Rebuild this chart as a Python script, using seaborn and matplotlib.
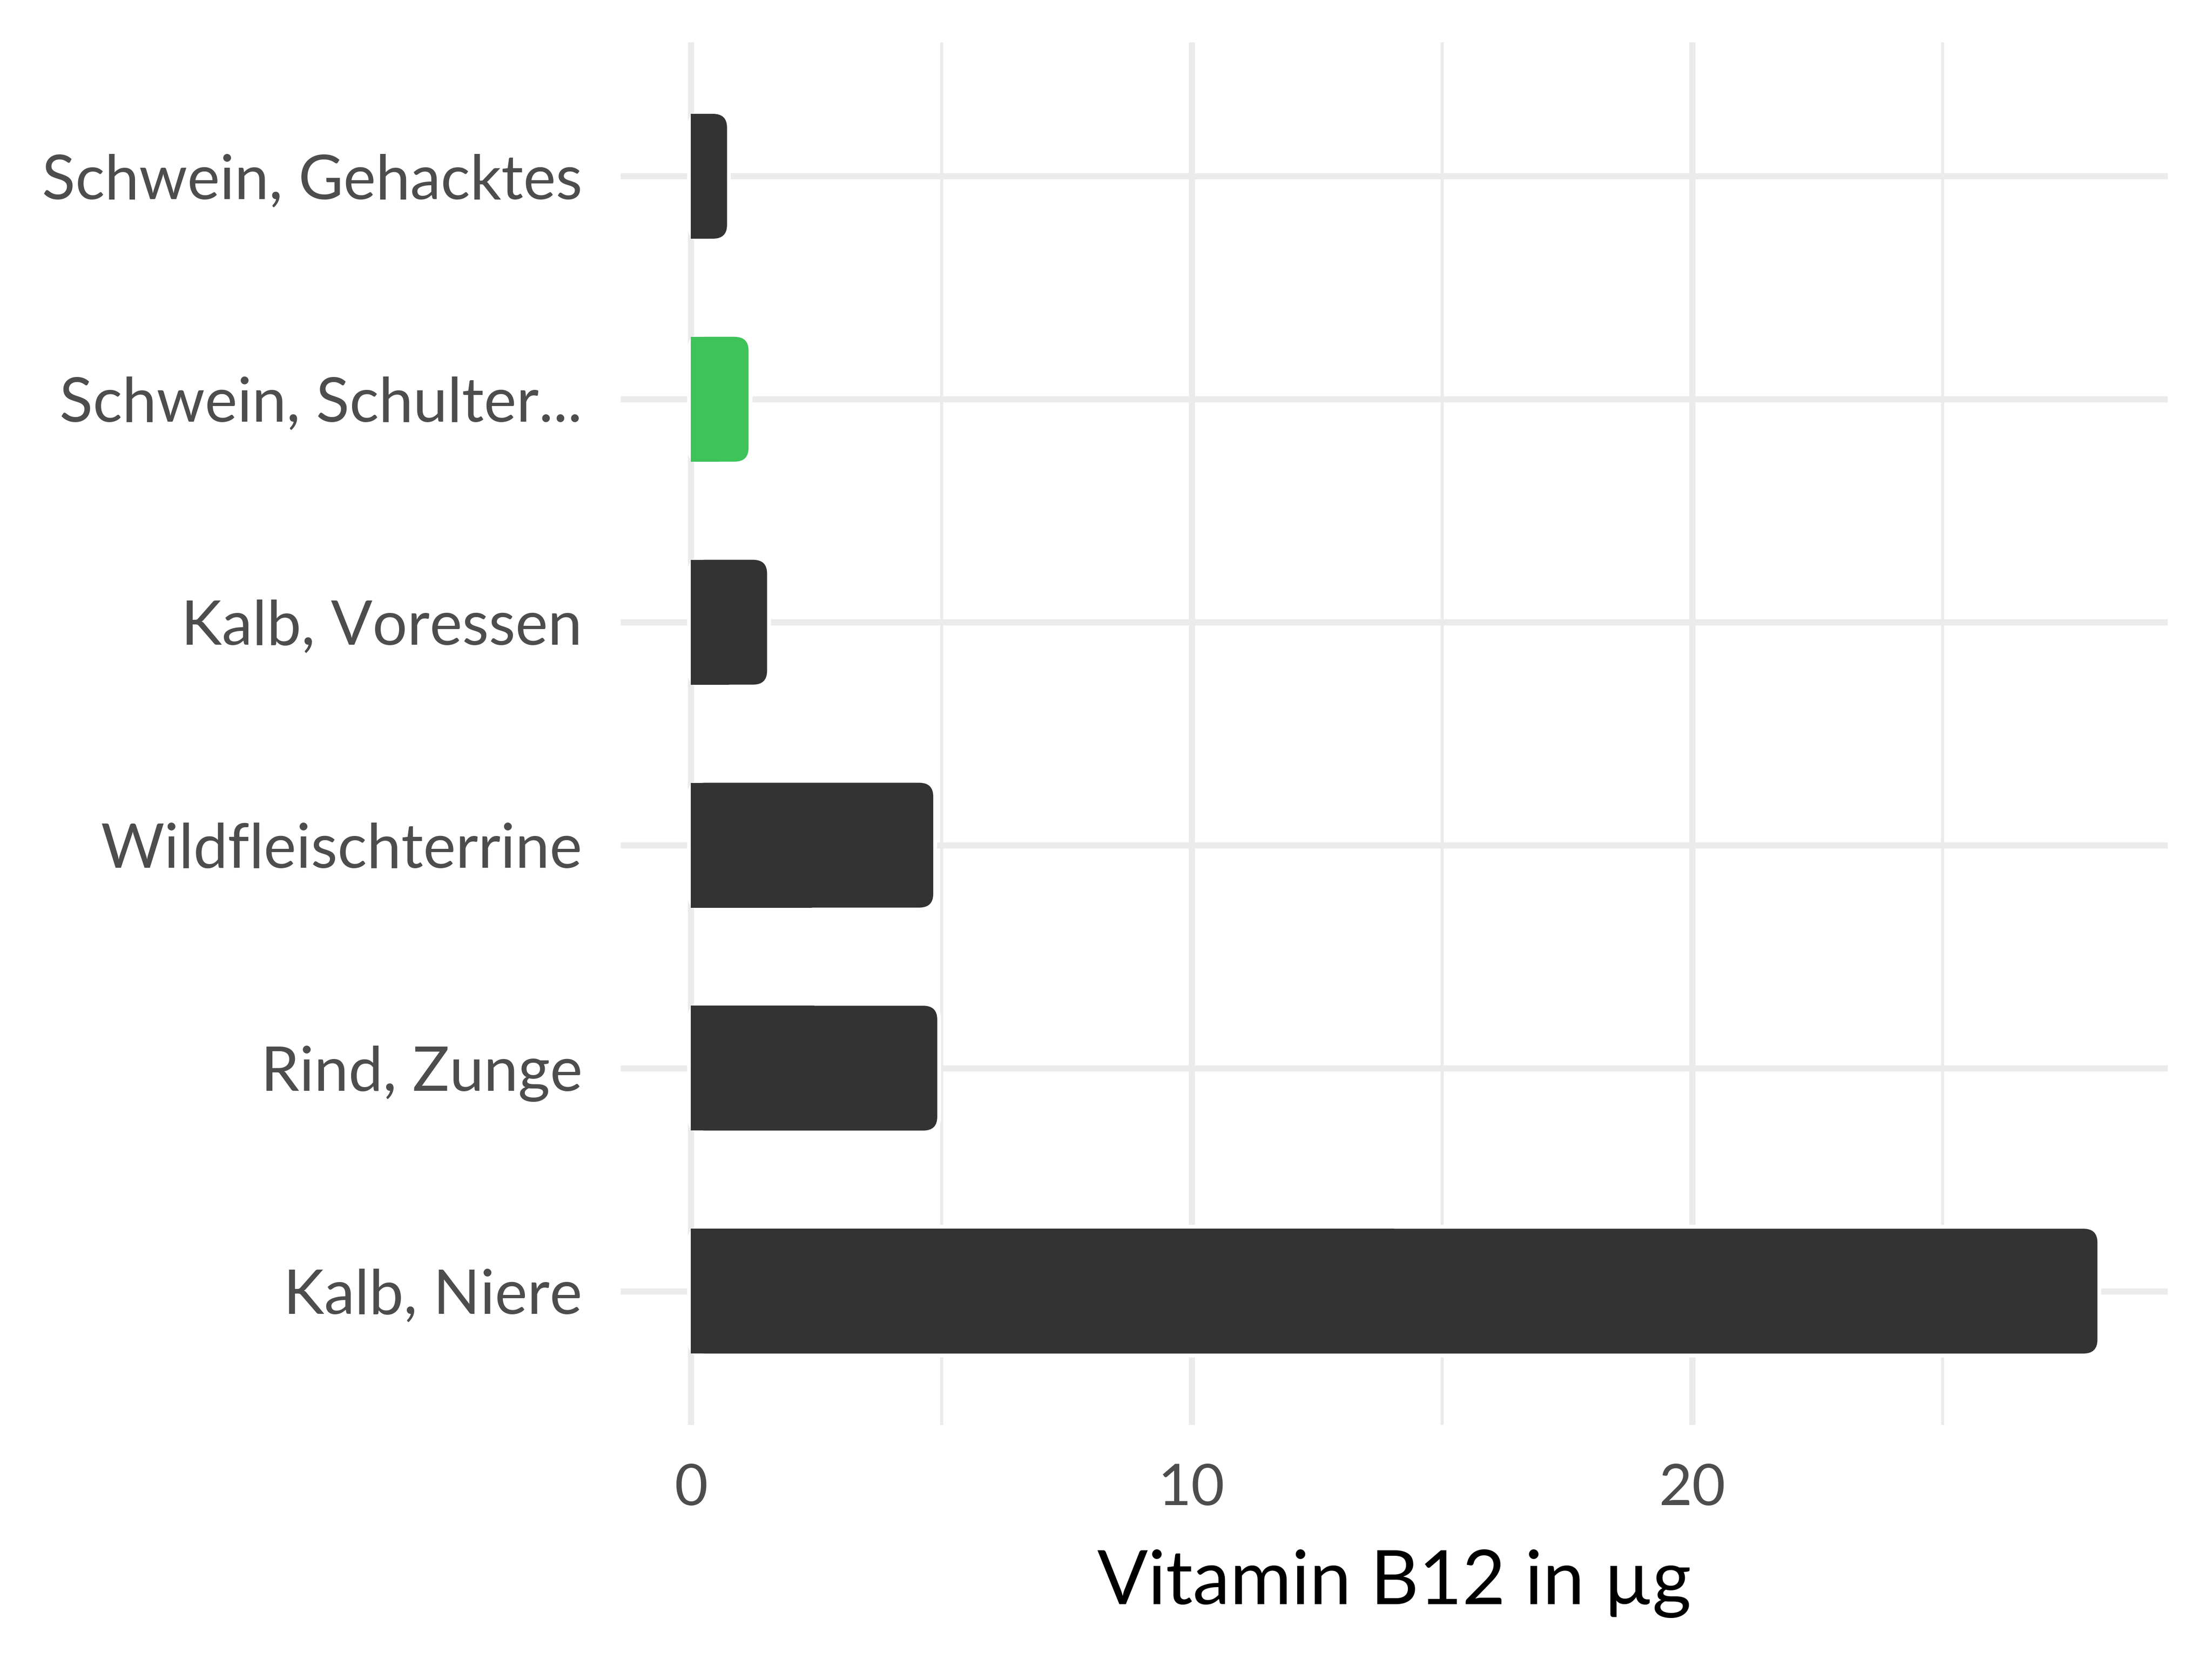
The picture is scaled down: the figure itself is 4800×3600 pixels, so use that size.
import matplotlib
matplotlib.use("Agg")
import matplotlib.pyplot as plt
from matplotlib.patches import FancyBboxPatch, Rectangle
from matplotlib.ticker import MultipleLocator
import seaborn as sns

# Vitamin B12 (µg) je Lebensmittel, von oben nach unten
foods = ["Schwein, Gehacktes", "Schwein, Schulter...", "Kalb, Voressen",
         "Wildfleischterrine", "Rind, Zunge", "Kalb, Niere"]
b12 = [0.72, 1.15, 1.52, 4.84, 4.92, 28.1]
bar_colors = ["#333333", "#3EC35A", "#333333", "#333333", "#333333", "#333333"]

sns.set_theme(style="white")
plt.rcParams["font.family"] = ["Lato", "DejaVu Sans"]

fig = plt.figure(figsize=(16, 12), dpi=300)
ax = fig.add_axes([0.2806, 0.1411, 0.6994, 0.8333])
sns.barplot(x=b12, y=foods, hue=foods, palette=bar_colors, width=0.56,
            saturation=1, legend=False, ax=ax)

ax.set_xlim(-1.405, 29.505)
ax.set_ylim(5.6, -0.6)

# Balken rechts abrunden (weisser Rand unterbricht das Gitter wie im Original)
rx, aspect = 0.28, 0.22
for p in list(ax.patches):
    x, y, w, h = p.get_x(), p.get_y(), p.get_width(), p.get_height()
    c = p.get_facecolor()
    p.remove()
    style = f"round,pad=0,rounding_size={rx}"
    ax.add_patch(FancyBboxPatch((x, y), w, h, boxstyle=style, mutation_aspect=aspect,
                                fc="white", ec="white", lw=4, zorder=2))
    ax.add_patch(FancyBboxPatch((x, y), w, h, boxstyle=style, mutation_aspect=aspect,
                                fc=c, ec="none", zorder=3))
    ax.add_patch(Rectangle((x, y), w / 2, h, fc=c, ec="none", zorder=3))

ax.xaxis.set_major_locator(MultipleLocator(10))
ax.xaxis.set_minor_locator(MultipleLocator(5))
ax.grid(True, which="major", axis="both", color="#EBEBEB", lw=3.2)
ax.grid(True, which="minor", axis="x", color="#EBEBEB", lw=1.6)
ax.set_axisbelow(True)
for s in ax.spines.values():
    s.set_visible(False)

ax.tick_params(axis="both", which="both", length=0, labelcolor="#4D4D4D", pad=20)
for lab in ax.get_yticklabels():
    lab.set_fontsize(32)
for lab in ax.get_xticklabels():
    lab.set_fontsize(30)
ax.set_ylabel("")
ax.set_xlabel("Vitamin B12 in µg", fontsize=39, color="black", labelpad=18)

fig.savefig("out.png", dpi=300)
